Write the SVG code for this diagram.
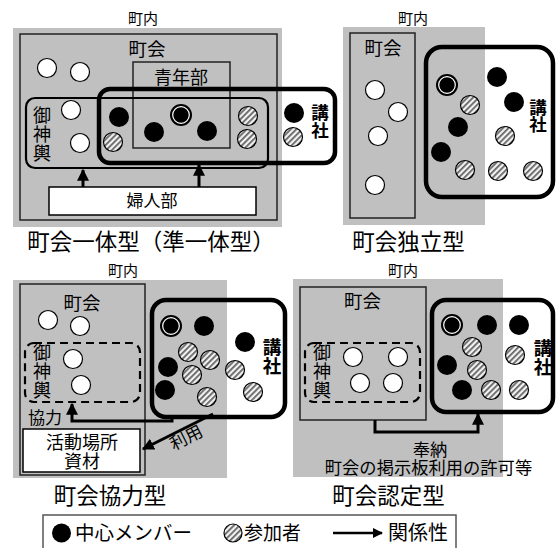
<svg xmlns="http://www.w3.org/2000/svg" width="556" height="548" viewBox="0 0 556 548">
<defs>
<pattern id="hatch" patternUnits="userSpaceOnUse" width="4" height="4" patternTransform="rotate(45)">
<rect width="4" height="4" fill="#f2f2f2"/>
<rect width="1.8" height="4" fill="#666"/>
</pattern>
<marker id="ah" viewBox="0 0 10 10" refX="9" refY="5" markerWidth="4" markerHeight="4" orient="auto" markerUnits="strokeWidth">
<path d="M0,0 L10,5 L0,10 z" fill="#000"/>
</marker>
<g id="blk"><circle r="10" fill="#000"/></g>
<g id="wht"><circle r="9.5" fill="#fff" stroke="#000" stroke-width="1.2"/></g>
<g id="hat"><circle r="9.5" fill="url(#hatch)" stroke="#000" stroke-width="1.2"/></g>
<g id="dbl"><circle r="11" fill="#000"/><circle r="8.3" fill="none" stroke="#fff" stroke-width="1.2"/></g>
</defs>
<style>
text{font-family:"Noto Sans CJK JP","Noto Sans CJK SC",sans-serif;fill:#000}
.mid{text-anchor:middle}
.t15{font-size:15px;text-anchor:middle}
.t17{font-size:17px;text-anchor:middle}
.t18{font-size:18px;text-anchor:middle}
.chokai{font-size:18.5px;text-anchor:middle}
.ttl{font-size:22.5px;text-anchor:middle}
.vert{writing-mode:vertical-rl;text-anchor:middle;font-size:18px;letter-spacing:1px}
.kou{writing-mode:vertical-rl;text-anchor:middle;font-weight:bold}
.gray{fill:#c0c0c0}
.inner{fill:none;stroke:#222;stroke-width:1.5}
.kousha{fill:none;stroke:#000;stroke-width:4.5}
.mikoshi{fill:none;stroke:#000;stroke-width:2.2}
.dash{fill:none;stroke:#000;stroke-width:2.2;stroke-dasharray:8,5}
.wbox{fill:#fff;stroke:#000;stroke-width:1.5}
.arr{fill:none;stroke:#000;stroke-width:3;marker-end:url(#ah)}
</style>
<rect width="556" height="548" fill="#fff"/>

<!-- Panel 1 -->
<g id="panel1">
<text class="t15" x="143" y="23.5">町内</text>
<rect class="gray" x="13" y="28" width="269" height="199"/>
<rect class="inner" x="20" y="34" width="257" height="186"/>
<text class="chokai" x="147" y="56">町会</text>
<rect class="inner" x="133" y="62" width="97" height="86"/>
<text class="t18" x="181" y="84">青年部</text>
<use href="#wht" x="47" y="68"/>
<use href="#wht" x="80" y="72"/>
</g>
<g id="mikoshi1">
<rect class="mikoshi" x="26" y="98" width="242" height="70" rx="9"/>
<text class="vert" x="42" y="134.5">御神輿</text>
<use href="#wht" x="71" y="110"/>
<use href="#wht" x="80" y="143"/>
</g>
<g id="kousha1">
<rect class="kousha" x="99" y="89" width="236" height="74" rx="11"/>
<use href="#blk" x="119" y="117"/>
<use href="#hat" x="113" y="142"/>
<use href="#dbl" x="181" y="115"/>
<use href="#blk" x="154" y="132"/>
<use href="#blk" x="207" y="131"/>
<use href="#hat" x="248" y="116"/>
<use href="#hat" x="247" y="139"/>
<use href="#blk" x="294" y="113"/>
<use href="#hat" x="293" y="137"/>
<text class="kou" font-size="17.5" x="320" y="121.5">講社</text>
</g>
<g id="fujinbu">
<rect class="wbox" x="49" y="187" width="207" height="28"/>
<text class="t17" x="152" y="207">婦人部</text>
</g>
<text class="ttl" x="151" y="250" font-size="21.6">町会一体型（準一体型）</text>

<!-- Panel 2 -->
<g id="panel2">
<text class="t15" x="413" y="23.5">町内</text>
<rect class="gray" x="343" y="27" width="142" height="198"/>
<rect class="inner" x="350" y="33" width="65" height="185"/>
<text class="chokai" x="383" y="55">町会</text>
<use href="#wht" x="375" y="90"/>
<use href="#wht" x="398" y="112"/>
<use href="#wht" x="378" y="136"/>
<use href="#wht" x="375" y="185"/>
</g>
<g id="kousha2">
<rect class="kousha" x="426" y="47" width="127" height="150" rx="16"/>
<use href="#dbl" x="447" y="85"/>
<use href="#blk" x="497" y="77"/>
<use href="#blk" x="514" y="102"/>
<use href="#hat" x="470" y="105"/>
<use href="#blk" x="458" y="127"/>
<use href="#blk" x="441" y="152"/>
<use href="#hat" x="505" y="136"/>
<use href="#hat" x="465" y="170"/>
<use href="#hat" x="498" y="171"/>
<use href="#hat" x="533" y="171"/>
<text class="kou" font-size="17.5" x="538" y="116">講社</text>
</g>
<text class="ttl" x="408.5" y="250">町会独立型</text>

<!-- Panel 3 -->
<g id="panel3">
<text class="t15" x="123" y="275.5">町内</text>
<rect class="gray" x="13" y="280" width="214" height="198"/>
<rect class="inner" x="20" y="284" width="125" height="191"/>
<text class="chokai" x="82" y="310">町会</text>
<use href="#wht" x="48" y="320"/>
<use href="#wht" x="80" y="326"/>
<text class="t17" x="45" y="424">協力</text>
</g>
<g id="mikoshi3">
<rect class="dash" x="25" y="343" width="115" height="59" rx="9"/>
<text class="vert" x="42" y="372" letter-spacing="2">御神輿</text>
<use href="#wht" x="73" y="359"/>
<use href="#wht" x="81" y="385"/>
</g>
<g id="kousha3">
<rect class="kousha" x="152" y="300" width="133" height="117" rx="14"/>
<use href="#dbl" x="171" y="326"/>
<use href="#blk" x="204" y="326"/>
<use href="#blk" x="245" y="342"/>
<use href="#hat" x="188" y="352"/>
<use href="#hat" x="210" y="360"/>
<use href="#blk" x="168" y="367"/>
<use href="#hat" x="192" y="375"/>
<use href="#hat" x="235" y="370"/>
<use href="#blk" x="165" y="390"/>
<use href="#hat" x="207" y="397"/>
<use href="#hat" x="253" y="392"/>
<text class="kou" font-size="18.5" x="272" y="356.5">講社</text>
</g>
<g id="shizai">
<rect class="wbox" x="23" y="429" width="117" height="43"/>
<text class="t18" x="82" y="449">活動場所<tspan x="82" dy="19">資材</tspan></text>
</g>
<text class="ttl" x="110" y="504">町会協力型</text>

<!-- Panel 4 -->
<g id="panel4">
<text class="t15" x="403" y="275.5">町内</text>
<rect class="gray" x="293" y="279" width="210" height="198"/>
<rect class="inner" x="300" y="287" width="126" height="133"/>
<text class="chokai" x="362.5" y="308">町会</text>
</g>
<g id="mikoshi4">
<rect class="dash" x="305" y="343" width="115" height="59" rx="9"/>
<text class="vert" x="322" y="372" letter-spacing="2">御神輿</text>
<use href="#wht" x="353" y="357"/>
<use href="#wht" x="398" y="357"/>
<use href="#wht" x="360" y="383"/>
<use href="#wht" x="393" y="383"/>
</g>
<g id="kousha4">
<rect class="kousha" x="432" y="300" width="121" height="112" rx="14"/>
<use href="#dbl" x="452" y="325"/>
<use href="#blk" x="487" y="325"/>
<use href="#blk" x="519" y="325"/>
<use href="#hat" x="472" y="347"/>
<use href="#hat" x="515" y="355"/>
<use href="#blk" x="447" y="365"/>
<use href="#hat" x="477" y="370"/>
<use href="#blk" x="462" y="390"/>
<use href="#hat" x="491" y="390"/>
<use href="#hat" x="519" y="390"/>
<text class="kou" font-size="18.5" x="543" y="357.5">講社</text>
</g>
<text class="mid" font-size="17.3" x="430" y="456">奉納<tspan x="428.5" dy="18">町会の掲示板利用の許可等</tspan></text>
<text class="ttl" x="388.5" y="504">町会認定型</text>

<!-- Connectors -->
<g id="connectors">
<path class="arr" d="M83,187 L83,170"/>
<path class="arr" d="M199,187 L199,165"/>
<path class="arr" d="M172,417 L172,421 L72,421 L72,404"/>
<path class="arr" d="M213,414 L143,449"/>
<path class="arr" d="M375,420 L375,432 L478,432 L478,414"/>
</g>
<text font-size="17" transform="translate(189,443) rotate(-27)" text-anchor="middle">利用</text>

<!-- Legend -->
<g id="legend">
<rect x="43" y="515" width="413" height="40" fill="#fff" stroke="#555" stroke-width="1.5"/>
<circle cx="61.5" cy="533" r="9.5" fill="#000"/>
<text x="75" y="540" font-size="19.5">中心メンバー</text>
<circle cx="233" cy="533" r="9" fill="url(#hatch)" stroke="#000" stroke-width="1.2"/>
<text x="244" y="540" font-size="19">参加者</text>
<path d="M333,533 L382,533" stroke="#000" stroke-width="2.5" marker-end="url(#ah)"/>
<text x="388" y="540" font-size="20">関係性</text>
</g>
</svg>
